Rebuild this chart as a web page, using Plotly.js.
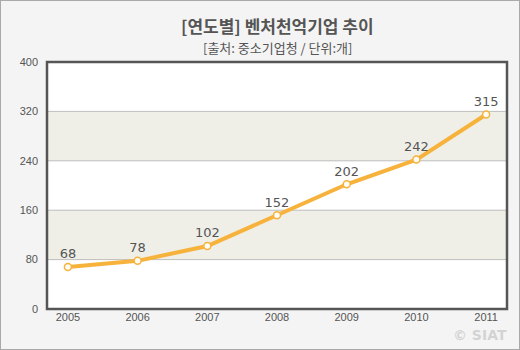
<!DOCTYPE html>
<html><head><meta charset="utf-8">
<script src="https://cdn.plot.ly/plotly-3.0.1.min.js"></script>
<style>html,body{margin:0;padding:0;background:#f4f4f4}#c{width:520px;height:350px;box-sizing:border-box;border:1px solid #a9a9a9}</style>
</head><body><div id="c"></div>
<script>
const years = ['2005','2006','2007','2008','2009','2010','2011'];
const counts = [68,78,102,152,202,242,315];
const yTicks = [0,80,160,240,320,400];
const bands = [[80,160],[240,320]];
const titleText = '[연도별] 벤처천억기업 추이';
const subtitleText = '[출처: 중소기업청 / 단위:개]';

const xIdx = years.map((_, i) => i);
const shapes = bands.map(b => ({type:'rect', xref:'paper', yref:'y', x0:0, x1:1, y0:b[0], y1:b[1], fillcolor:'#efefe8', line:{width:0}, layer:'below'}));
yTicks.slice(1,-1).forEach(v => shapes.push({type:'line', xref:'paper', yref:'y', x0:0, x1:1, y0:v, y1:v, line:{color:'#bdbdbd', width:1}, layer:'below'}));
shapes.push({type:'rect', xref:'paper', yref:'paper', x0:0, x1:1, y0:0, y1:1, line:{color:'#555', width:2.5}, fillcolor:'rgba(0,0,0,0)'});

const trace = {
  x: xIdx, y: counts, type:'scatter', mode:'lines+markers+text',
  text: counts.map(String), textposition:'top center',
  textfont:{family:'DejaVu Sans, Arial', size:13, color:'#555'},
  line:{color:'#f7b23c', width:4},
  marker:{size:7, color:'#fffdf5', line:{color:'#f7b23c', width:1.5}},
  hoverinfo:'none', cliponaxis:false
};

const layout = {
  width:518, height:348,
  paper_bgcolor:'#f4f4f4', plot_bgcolor:'#ffffff',
  margin:{l:46, r:12, t:61, b:40},
  showlegend:false,
  xaxis:{range:[-0.3,6.3], tickvals:xIdx, ticktext:years, showgrid:false, zeroline:false, showline:false, ticks:'',
    tickfont:{family:'Liberation Sans, Arial', size:11, color:'#555'}, fixedrange:true},
  yaxis:{range:[0,400], tickvals:yTicks, showgrid:false, zeroline:false, showline:false, ticks:'',
    tickfont:{family:'Liberation Sans, Arial', size:11, color:'#555'}, ticklabelstandoff:8},
  shapes: shapes,
  annotations:[
    {text:'<b>'+titleText+'</b>', xref:'paper', yref:'paper', x:0.5, y:1+36/247, xanchor:'center', yanchor:'middle', showarrow:false,
      font:{family:'Noto Sans CJK KR', size:17, color:'#555'}},
    {text:subtitleText, xref:'paper', yref:'paper', x:0.5, y:1+15/247, xanchor:'center', yanchor:'middle', showarrow:false,
      font:{family:'Noto Sans CJK KR', size:13, color:'#555'}},
    {text:'<b>© SIAT</b>', xref:'paper', yref:'paper', x:1.005, y:-0.145, xanchor:'right', yanchor:'bottom', showarrow:false,
      font:{family:'DejaVu Sans', size:14, color:'rgba(190,190,190,0.6)'}}]
};
Plotly.newPlot('c', [trace], layout, {displayModeBar:false, staticPlot:true});
</script></body></html>
